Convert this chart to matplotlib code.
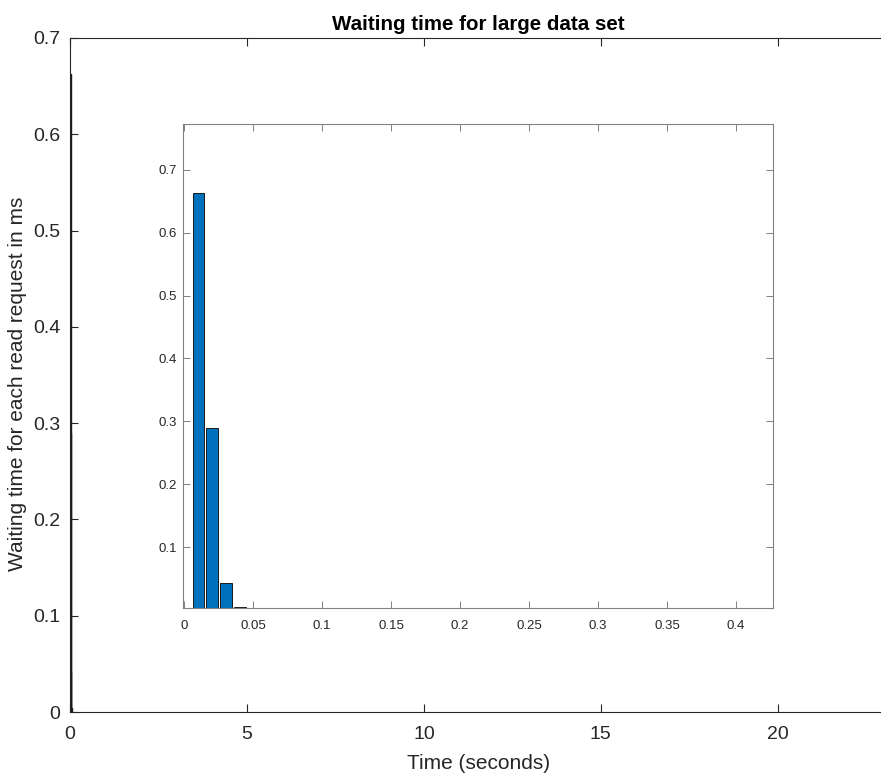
import matplotlib.pyplot as plt
from matplotlib.ticker import FormatStrFormatter, FuncFormatter

# histogram of waiting times (bin centres in seconds, probability)
bin_centres = [0.0105, 0.0205, 0.0305, 0.0405]
probability = [0.663, 0.290, 0.042, 0.004]
bar_width = 0.0085

plt.rcParams['font.family'] = ['Liberation Sans', 'DejaVu Sans']

fig = plt.figure(figsize=(8.81, 7.73), dpi=100)

# main axes (right edge runs just past the figure)
ax = fig.add_axes([0.0795, 0.0789, 0.927, 0.872])
ax.bar(bin_centres, probability, width=bar_width, color='#0072BD',
       edgecolor='#1a1a1a', linewidth=1.0)
ax.set_xlim(0, 23.08)
ax.set_ylim(0, 0.7)
ax.set_xticks([0, 5, 10, 15, 20])
ax.set_yticks([0, 0.1, 0.2, 0.3, 0.4, 0.5, 0.6, 0.7])
ax.yaxis.set_major_formatter(FuncFormatter(lambda v, p: '%g' % round(v, 2)))
ax.tick_params(direction='in', top=True, right=False, labelsize=14,
               length=6, width=0.8, colors='#262626', labelcolor='#262626')
ax.tick_params(axis='x', pad=10)
ax.tick_params(axis='y', pad=7)
for s in ax.spines.values():
    s.set_color('#262626')
    s.set_linewidth(0.8)
ax.set_title('Waiting time for large data set', fontsize=14.8,
             fontweight='bold', pad=6)
ax.set_xlabel('Time (seconds)', fontsize=15, color='#262626', labelpad=8)
ax.set_ylabel('Waiting time for each read request in ms', fontsize=15,
              color='#262626')
ax.yaxis.set_label_coords(-0.053, 0.487)

# inset zoom
ins = fig.add_axes([0.2077, 0.2135, 0.6697, 0.626])
ins.bar(bin_centres, probability, width=bar_width, color='#0072BD',
        edgecolor='#1a1a1a', linewidth=0.7)
ins.set_xlim(-0.0007, 0.4268)
ins.set_ylim(0.003, 0.773)
ins.set_xticks([0, 0.05, 0.1, 0.15, 0.2, 0.25, 0.3, 0.35, 0.4])
ins.set_yticks([0.1, 0.2, 0.3, 0.4, 0.5, 0.6, 0.7])
ins.xaxis.set_major_formatter(FuncFormatter(lambda v, p: '%g' % round(v, 3)))
ins.yaxis.set_major_formatter(FormatStrFormatter('%g'))
ins.tick_params(direction='in', top=True, right=True, labelsize=9.5,
                length=5, width=0.7, colors='#808080', labelcolor='#262626')
ins.tick_params(axis='x', pad=9)
ins.tick_params(axis='y', pad=4.5)
for s in ins.spines.values():
    s.set_color('#808080')
    s.set_linewidth(0.8)

fig.savefig('out.png', dpi=100)
